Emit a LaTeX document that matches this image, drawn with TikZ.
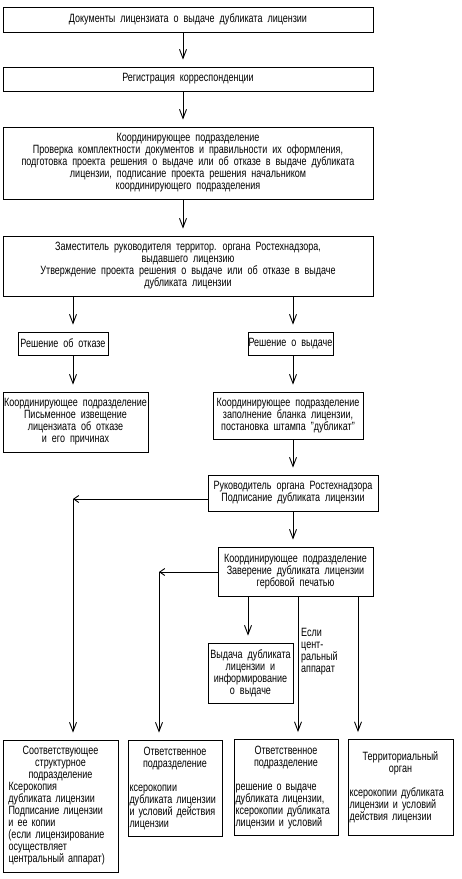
\documentclass[tikz,border=0pt]{standalone}
\usepackage{fontspec}
\setmainfont{Liberation Sans}[FakeStretch=0.75,WordSpace=2.0]
\usepackage{tikz}
\usetikzlibrary{arrows.meta}

\begin{document}
\begin{tikzpicture}[x=1pt,y=-1pt,>={Straight Barb[length=9pt,width=7pt]},
  every node/.style={font=\fontsize{12}{12}\selectfont},
  box/.style={draw,line width=0.9pt,align=center,inner sep=2pt},
  tbox/.style={draw,line width=0.9pt,align=left,inner xsep=1.5pt,minimum height=96pt},
  link/.style={->,line width=0.9pt,shorten >=7pt},
  turn/.style={-{Straight Barb[length=5pt,width=7pt]},line width=0.9pt}]
  \useasboundingbox (0,0) rectangle (462,879);
  % main column
  \node[box,minimum width=370pt,minimum height=25pt] (b1) at (188,19.5) {Документы лицензиата о выдаче дубликата лицензии};
  \node[box,minimum width=370pt,minimum height=24pt] (b2) at (188,79) {Регистрация корреспонденции};
  \node[box,minimum width=370pt,minimum height=72pt] (b3) at (188,163) {Координирующее подразделение\\
    Проверка комплектности документов и правильности их оформления,\\
    подготовка проекта решения о выдаче или об отказе в выдаче дубликата\\
    лицензии, подписание проекта решения начальником\\
    координирующего подразделения};
  \node[box,minimum width=370pt,minimum height=60pt] (b4) at (188,266) {Заместитель руководителя территор. органа Ростехнадзора,\\
    выдавшего лицензию\\
    Утверждение проекта решения о выдаче или об отказе в выдаче\\
    дубликата лицензии};
  % two branches
  \node[box,minimum width=90pt,minimum height=23pt,inner xsep=0pt] (otk) at (63,343.5) {Решение об отказе};
  \node[box,minimum width=85pt,minimum height=23pt,inner xsep=0pt] (vyd) at (290.5,343.5) {Решение о выдаче};
  \node[box,minimum width=145pt,minimum height=60pt,inner xsep=0pt] (izv) at (75.5,422) {Координирующее подразделение\\
    Письменное извещение\\лицензиата об отказе\\и его причинах};
  \node[box,minimum width=150pt,minimum height=47pt] (blk) at (288,415.5) {Координирующее подразделение\\
    заполнение бланка лицензии,\\постановка штампа "дубликат"};
  \node[box,minimum width=170pt,minimum height=36pt] (rk) at (293,493) {Руководитель органа Ростехнадзора\\
    Подписание дубликата лицензии};
  \node[box,minimum width=155pt,minimum height=49pt] (zav) at (295.5,571.5) {Координирующее подразделение\\
    Заверение дубликата лицензии\\гербовой печатью};
  \node[box,minimum width=85pt,minimum height=60pt,inner xsep=0pt] (vd) at (250.5,673) {Выдача дубликата\\лицензии и\\информирование\\о выдаче};
  \node[anchor=north west,align=left,inner sep=0pt] (esli) at (301,628) {Если\\цент-\\ральный\\аппарат};
  % bottom row
  \node[tbox,text width=104pt,inner xsep=5.5pt,minimum height=132pt] (bA) at (60.5,806) {{\centering Соответствующее\\структурное\\подразделение\par}
    Ксерокопия\\дубликата~лицензии\\Подписание~лицензии\\и ее копии\\(если~лицензирование\\осуществляет\\центральный~аппарат)};
  \node[tbox,text width=91pt] (bB) at (175,788) {{\centering Ответственное\\подразделение\par}\vspace{12pt}
    ксерокопии\\дубликата~лицензии\\и~условий~действия\\лицензии};
  \node[tbox,text width=101pt] (bC) at (286,787.5) {{\centering Ответственное\\подразделение\par}\vspace{12pt}
    решение о выдаче\\дубликата~лицензии,\\ксерокопии~дубликата\\лицензии~и~условий};
  \node[tbox,text width=102pt] (bD) at (400.5,787.5) {{\centering Территориальный\\орган\par}\vspace{12pt}
    ксерокопии~дубликата\\лицензии~и~условий\\действия~лицензии};
  % columns and corners
  \coordinate (cm) at (183,0);
  \coordinate (cl) at (73,0);
  \coordinate (cr) at (293,0);
  \coordinate (k1) at (73,499);
  \coordinate (k2) at (159,572);
  \coordinate (c1) at (248,0);
  \coordinate (c2) at (298,0);
  \coordinate (c3) at (358,0);
  \draw[link] (b1.south -| cm) -- (b2.north -| cm);
  \draw[link] (b2.south -| cm) -- (b3.north -| cm);
  \draw[link] (b3.south -| cm) -- (b4.north -| cm);
  \draw[link] (b4.south -| cl) -- (otk.north -| cl);
  \draw[link] (b4.south -| cr) -- (vyd.north -| cr);
  \draw[link] (otk.south -| cl) -- (izv.north -| cl);
  \draw[link] (vyd.south -| cr) -- (blk.north -| cr);
  \draw[link] (blk.south -| cr) -- (rk.north -| cr);
  \draw[link] (rk.south -| cr) -- (zav.north -| cr);
  \draw[turn] (rk.west |- k1) -- (k1);
  \draw[link] (k1) -- (bA.north -| k1);
  \draw[turn] (zav.west |- k2) -- (k2);
  \draw[link] (k2) -- (bB.north -| k2);
  \draw[link] (zav.south -| c1) -- (vd.north -| c1);
  \draw[link] (zav.south -| c2) -- (bC.north -| c2);
  \draw[link] (zav.south -| c3) -- (bD.north -| c3);
\end{tikzpicture}
\end{document}
